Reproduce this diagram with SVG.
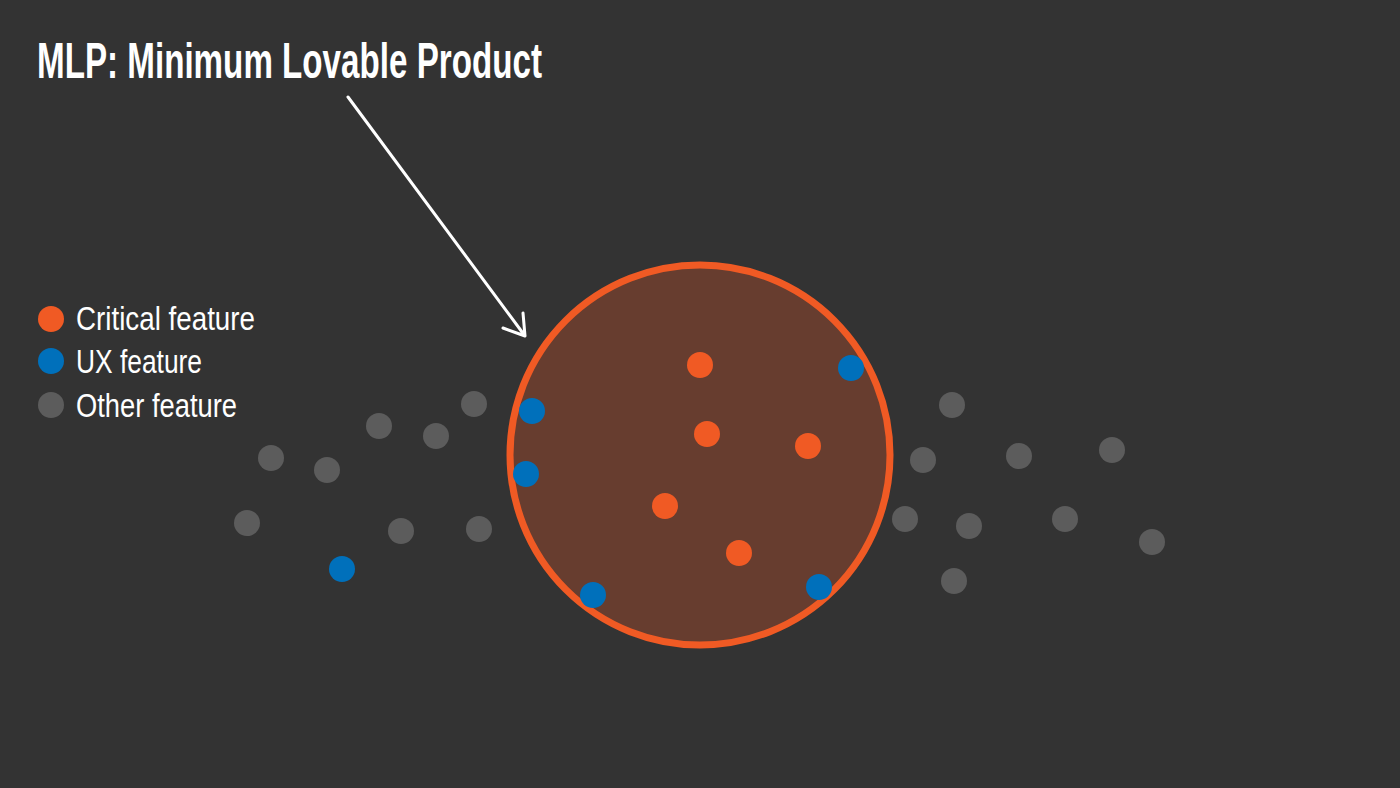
<svg xmlns="http://www.w3.org/2000/svg" width="1400" height="788" viewBox="0 0 1400 788">
<style>
.t{font-family:"Liberation Sans",Arial,sans-serif;fill:#ffffff}
.crit{fill:#F05A24}
.ux{fill:#0070BB}
.oth{fill:#5C5C5C}
.arrow{stroke:#ffffff;stroke-width:3;fill:none;stroke-linecap:round;stroke-linejoin:round}
</style>
<rect width="1400" height="788" fill="#333333"/>
<g id="title"><text class="t" x="37" y="78" font-size="50" font-weight="bold" textLength="505" lengthAdjust="spacingAndGlyphs">MLP: Minimum Lovable Product</text></g>
<g id="legend">
<circle class="crit" cx="51" cy="319" r="13"/>
<text class="t" x="76" y="330" font-size="34" textLength="179" lengthAdjust="spacingAndGlyphs">Critical feature</text>
<circle class="ux" cx="51" cy="361" r="13"/>
<text class="t" x="76" y="373" font-size="34" textLength="126" lengthAdjust="spacingAndGlyphs">UX feature</text>
<circle class="oth" cx="51" cy="405" r="13"/>
<text class="t" x="76" y="417" font-size="34" textLength="161" lengthAdjust="spacingAndGlyphs">Other feature</text>
</g>
<g id="mlp-circle"><circle cx="700" cy="455" r="190" fill="#673D2F" stroke="#F05A24" stroke-width="7"/></g>
<g id="connectors">
<path class="arrow" d="M348,97 L525,336 M503,328 L525,336 L523,313"/>
</g>
<g id="other-features">
<circle class="oth" cx="474" cy="404" r="13"/>
<circle class="oth" cx="379" cy="426" r="13"/>
<circle class="oth" cx="436" cy="436" r="13"/>
<circle class="oth" cx="271" cy="458" r="13"/>
<circle class="oth" cx="327" cy="470" r="13"/>
<circle class="oth" cx="247" cy="523" r="13"/>
<circle class="oth" cx="401" cy="531" r="13"/>
<circle class="oth" cx="479" cy="529" r="13"/>
<circle class="oth" cx="952" cy="405" r="13"/>
<circle class="oth" cx="923" cy="460" r="13"/>
<circle class="oth" cx="1019" cy="456" r="13"/>
<circle class="oth" cx="1112" cy="450" r="13"/>
<circle class="oth" cx="905" cy="519" r="13"/>
<circle class="oth" cx="969" cy="526" r="13"/>
<circle class="oth" cx="1065" cy="519" r="13"/>
<circle class="oth" cx="1152" cy="542" r="13"/>
<circle class="oth" cx="954" cy="581" r="13"/>
</g>
<g id="critical-features">
<circle class="crit" cx="700" cy="365" r="13"/>
<circle class="crit" cx="707" cy="434" r="13"/>
<circle class="crit" cx="808" cy="446" r="13"/>
<circle class="crit" cx="665" cy="506" r="13"/>
<circle class="crit" cx="739" cy="553" r="13"/>
</g>
<g id="ux-features">
<circle class="ux" cx="851" cy="368" r="13"/>
<circle class="ux" cx="532" cy="411" r="13"/>
<circle class="ux" cx="526" cy="474" r="13"/>
<circle class="ux" cx="593" cy="595" r="13"/>
<circle class="ux" cx="819" cy="587" r="13"/>
<circle class="ux" cx="342" cy="569" r="13"/>
</g>
</svg>
